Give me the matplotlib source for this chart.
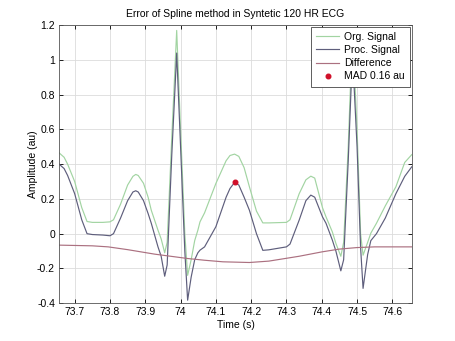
import matplotlib
matplotlib.use("Agg")
import matplotlib.pyplot as plt

# time samples (s) shared by the original and processed signals
t = [73.656, 73.67, 73.68, 73.70, 73.72, 73.735, 73.75, 73.78, 73.80, 73.81,
     73.83, 73.85, 73.865, 73.873, 73.88, 73.895, 73.908, 73.917, 73.936, 73.945,
     73.955, 73.962, 73.975, 73.989, 74.0, 74.012, 74.02, 74.03, 74.04, 74.049,
     74.055, 74.068, 74.10, 74.129, 74.14, 74.153, 74.165, 74.18, 74.195, 74.215,
     74.233, 74.25, 74.30, 74.31, 74.336, 74.355, 74.369, 74.38, 74.402, 74.412,
     74.43, 74.44, 74.454, 74.462, 74.475, 74.487, 74.50, 74.51, 74.517, 74.53,
     74.539, 74.555, 74.58, 74.61, 74.635, 74.655]

org = [0.465, 0.44, 0.40, 0.30, 0.15, 0.07, 0.065, 0.065, 0.068, 0.08,
       0.17, 0.28, 0.33, 0.341, 0.335, 0.29, 0.21, 0.135, 0.02, -0.03,
       -0.11, -0.05, 0.55, 1.17, 0.6, 0.0, -0.24, -0.15, -0.04, 0.02,
       0.068, 0.12, 0.289, 0.42, 0.45, 0.458, 0.445, 0.38, 0.27, 0.13,
       0.062, 0.062, 0.065, 0.08, 0.23, 0.31, 0.331, 0.32, 0.15, 0.097,
       0.01, -0.056, -0.13, -0.05, 0.5, 1.17, 0.6, 0.0, -0.124, -0.05,
       0.003, 0.06, 0.16, 0.27, 0.41, 0.455]

proc = [0.40, 0.375, 0.335, 0.23, 0.08, 0.0, -0.005, -0.008, -0.012, 0.0,
        0.09, 0.19, 0.24, 0.247, 0.24, 0.19, 0.116, 0.06, -0.076, -0.13,
        -0.245, -0.18, 0.45, 1.04, 0.5, -0.1, -0.383, -0.25, -0.15, -0.11,
        -0.095, -0.076, 0.04, 0.21, 0.26, 0.295, 0.28, 0.21, 0.135, 0.0,
        -0.096, -0.093, -0.076, -0.06, 0.078, 0.19, 0.222, 0.21, 0.097, 0.06,
        -0.037, -0.1, -0.214, -0.15, 0.42, 1.04, 0.5, -0.08, -0.315, -0.12,
        -0.04, 0.0, 0.09, 0.23, 0.33, 0.385]

t_diff = [73.656, 73.75, 73.795, 73.85, 73.927, 74.02, 74.068, 74.12, 74.195,
          74.25, 74.336, 74.40, 74.449, 74.5, 74.55, 74.655]
diff = [-0.066, -0.07, -0.076, -0.092, -0.118, -0.143, -0.153, -0.162, -0.166,
        -0.158, -0.13, -0.105, -0.089, -0.08, -0.076, -0.076]

mad_t = [74.153]
mad_v = [0.295]

xticks = [73.7, 73.8, 73.9, 74.0, 74.1, 74.2, 74.3, 74.4, 74.5, 74.6]
xlabels = ["73.7", "73.8", "73.9", "74", "74.1", "74.2", "74.3", "74.4", "74.5", "74.6"]
yticks = [-0.4, -0.2, 0, 0.2, 0.4, 0.6, 0.8, 1.0, 1.2]
ylabels = ["-0.4", "-0.2", "0", "0.2", "0.4", "0.6", "0.8", "1", "1.2"]

plt.rcParams["font.family"] = ["Liberation Sans", "DejaVu Sans"]
plt.rcParams["font.size"] = 7.5

fig = plt.figure(figsize=(4.55, 3.41), dpi=100)
ax = fig.add_axes([0.13, 0.111, 0.775, 0.815])

ax.plot(t, org, color="#a2d4a2", lw=0.85, label="Org. Signal")
ax.plot(t, proc, color="#5e5e7c", lw=0.85, label="Proc. Signal")
ax.plot(t_diff, diff, color="#ab7080", lw=0.85, label="Difference")
ax.plot(mad_t, mad_v, "o", color="#d0102a", ms=3.3, lw=0, label="MAD 0.16 au")

ax.set_xlim(73.656, 74.655)
ax.set_ylim(-0.4, 1.2)
ax.set_xticks(xticks)
ax.set_xticklabels(xlabels)
ax.set_yticks(yticks)
ax.set_yticklabels(ylabels)
ax.tick_params(direction="in", top=True, right=True, length=3, width=0.6, pad=3)
ax.grid(True, color="#dcdcdc", lw=0.6)
ax.set_axisbelow(True)
for s in ax.spines.values():
    s.set_linewidth(0.6)
    s.set_color("#555555")

ax.set_title("Error of Spline method in Syntetic 120 HR ECG", fontsize=7.5, pad=6)
ax.set_xlabel("Time (s)", labelpad=2)
ax.set_ylabel("Amplitude (au)", labelpad=-1)

leg = ax.legend(loc="upper right", fontsize=7.5, fancybox=False, framealpha=1,
                edgecolor="#444444", borderaxespad=0.15, handlelength=2.2,
                labelspacing=0.3, borderpad=0.5, handletextpad=0.5)
leg.get_frame().set_linewidth(0.6)

fig.savefig("out.png", dpi=100)
